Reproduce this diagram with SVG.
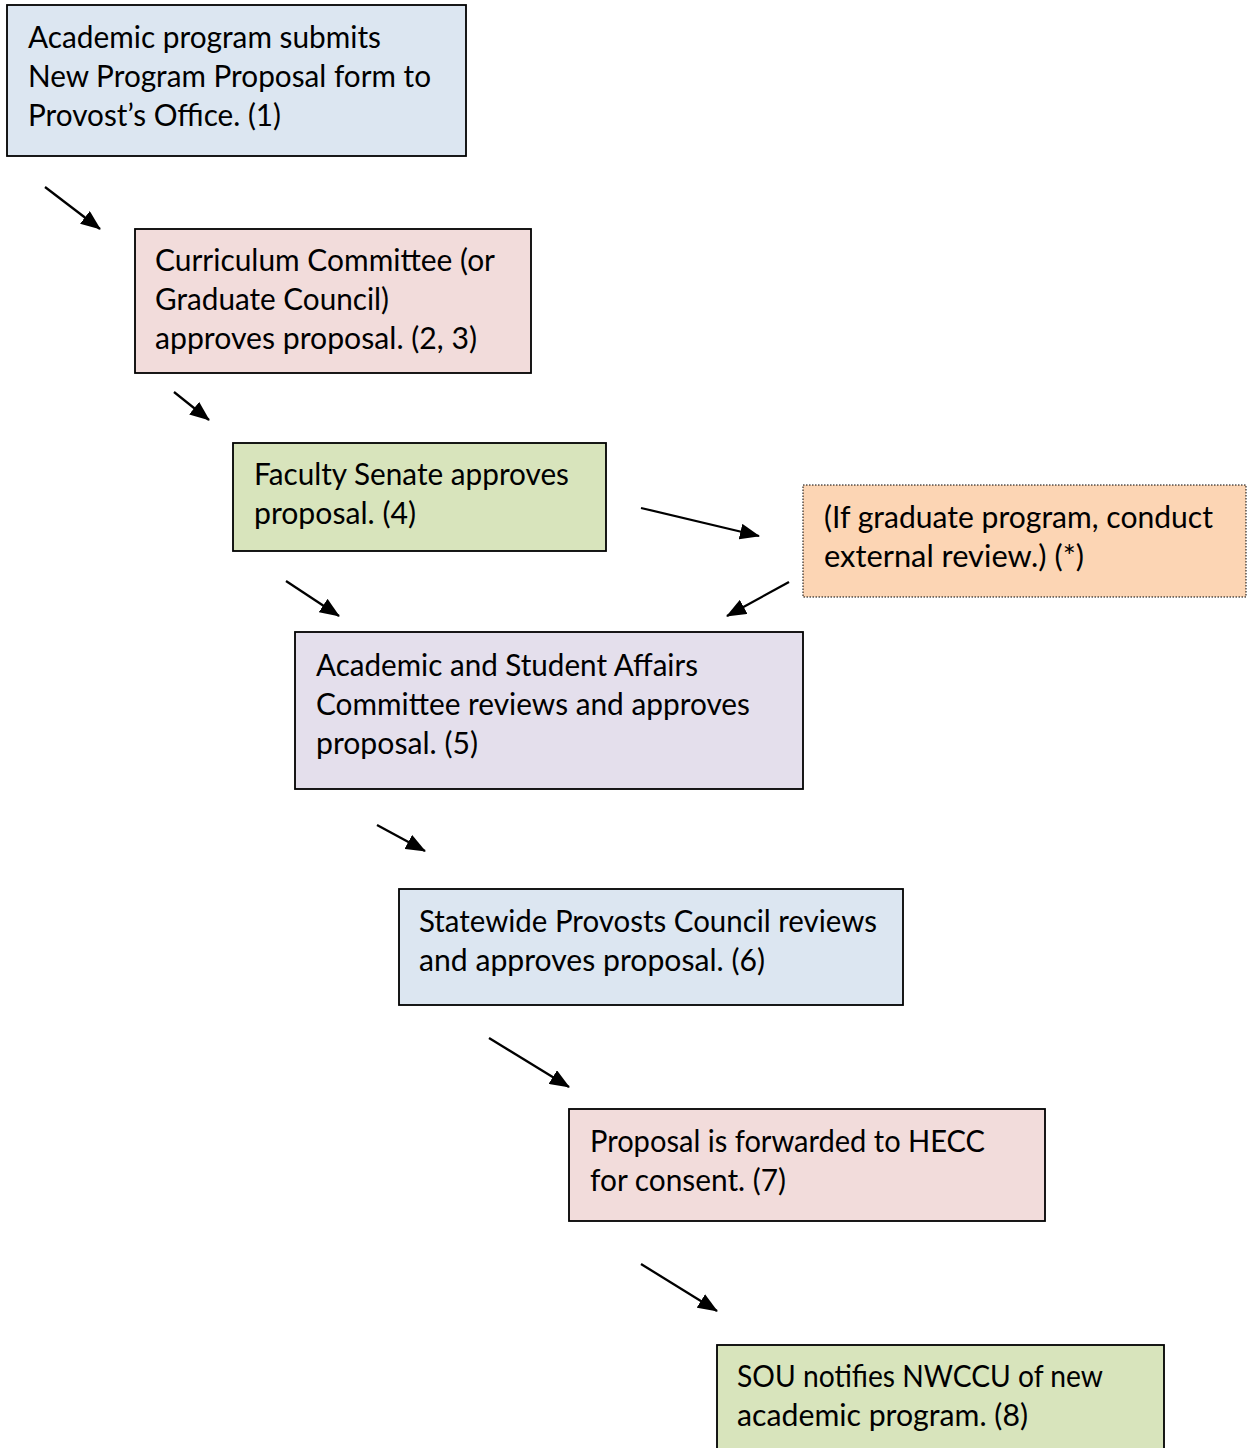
<svg xmlns="http://www.w3.org/2000/svg" width="1247" height="1448" viewBox="0 0 1247 1448">
<defs>
<marker id="ah" markerUnits="userSpaceOnUse" markerWidth="20" markerHeight="16" refX="19" refY="8" orient="auto">
<path d="M0,0 L20,8 L0,16 Z" fill="#000"/>
</marker>
<style>
.box{stroke:#000;stroke-width:1.8}
.t{font-family:Lato,"Liberation Sans",sans-serif;font-size:30px;fill:#000}
.c{stroke:#000;stroke-width:2.3;fill:none}
</style>
</defs>
<rect width="1247" height="1448" fill="#fff"/>
<g id="n1">
<rect class="box" x="7" y="5" width="459" height="151" fill="#dce6f1"/>
<text class="t"><tspan x="28" y="48" textLength="353" lengthAdjust="spacingAndGlyphs">Academic program submits</tspan><tspan x="28" y="87" textLength="403" lengthAdjust="spacingAndGlyphs">New Program Proposal form to</tspan><tspan x="28" y="126" textLength="253" lengthAdjust="spacingAndGlyphs">Provost’s Office. (1)</tspan></text>
</g>
<g id="n2">
<rect class="box" x="135" y="229" width="396" height="144" fill="#f2dcdb"/>
<text class="t"><tspan x="155" y="271" textLength="340" lengthAdjust="spacingAndGlyphs">Curriculum Committee (or</tspan><tspan x="155" y="310" textLength="234" lengthAdjust="spacingAndGlyphs">Graduate Council)</tspan><tspan x="155" y="349" textLength="322" lengthAdjust="spacingAndGlyphs">approves proposal. (2, 3)</tspan></text>
</g>
<g id="n3">
<rect class="box" x="233" y="443" width="373" height="108" fill="#d8e4bc"/>
<text class="t"><tspan x="254" y="485" textLength="315" lengthAdjust="spacingAndGlyphs">Faculty Senate approves</tspan><tspan x="254" y="524" textLength="162" lengthAdjust="spacingAndGlyphs">proposal. (4)</tspan></text>
</g>
<g id="n4">
<rect x="803" y="485" width="443" height="112" fill="#fcd5b4" stroke="#000" stroke-width="1" stroke-dasharray="1.5,1.5"/>
<text class="t"><tspan x="824" y="528" textLength="389" lengthAdjust="spacingAndGlyphs">(If graduate program, conduct</tspan><tspan x="824" y="567" textLength="260" lengthAdjust="spacingAndGlyphs">external review.) (*)</tspan></text>
</g>
<g id="n5">
<rect class="box" x="295" y="632" width="508" height="157" fill="#e4dfec"/>
<text class="t"><tspan x="316" y="676" textLength="382" lengthAdjust="spacingAndGlyphs">Academic and Student Affairs</tspan><tspan x="316" y="715" textLength="434" lengthAdjust="spacingAndGlyphs">Committee reviews and approves</tspan><tspan x="316" y="754" textLength="162" lengthAdjust="spacingAndGlyphs">proposal. (5)</tspan></text>
</g>
<g id="n6">
<rect class="box" x="399" y="889" width="504" height="116" fill="#dce6f1"/>
<text class="t"><tspan x="419" y="932" textLength="458" lengthAdjust="spacingAndGlyphs">Statewide Provosts Council reviews</tspan><tspan x="419" y="971" textLength="346" lengthAdjust="spacingAndGlyphs">and approves proposal. (6)</tspan></text>
</g>
<g id="n7">
<rect class="box" x="569" y="1109" width="476" height="112" fill="#f2dcdb"/>
<text class="t"><tspan x="590" y="1152" textLength="395" lengthAdjust="spacingAndGlyphs">Proposal is forwarded to HECC</tspan><tspan x="590" y="1191" textLength="196" lengthAdjust="spacingAndGlyphs">for consent. (7)</tspan></text>
</g>
<g id="n8">
<rect class="box" x="717" y="1345" width="447" height="110" fill="#d8e4bc"/>
<text class="t"><tspan x="737" y="1387" textLength="366" lengthAdjust="spacingAndGlyphs">SOU notifies NWCCU of new</tspan><tspan x="737" y="1426" textLength="291" lengthAdjust="spacingAndGlyphs">academic program. (8)</tspan></text>
</g>
<g id="connectors">
<line class="c" x1="45" y1="187" x2="100" y2="229" marker-end="url(#ah)"/>
<line class="c" x1="174" y1="392" x2="209" y2="420" marker-end="url(#ah)"/>
<line class="c" x1="641" y1="508" x2="759" y2="536" marker-end="url(#ah)"/>
<line class="c" x1="286" y1="581" x2="339" y2="616" marker-end="url(#ah)"/>
<line class="c" x1="789" y1="582" x2="727" y2="616" marker-end="url(#ah)"/>
<line class="c" x1="377" y1="825" x2="425" y2="851" marker-end="url(#ah)"/>
<line class="c" x1="489" y1="1038" x2="569" y2="1087" marker-end="url(#ah)"/>
<line class="c" x1="641" y1="1264" x2="717" y2="1311" marker-end="url(#ah)"/>
</g>
</svg>
